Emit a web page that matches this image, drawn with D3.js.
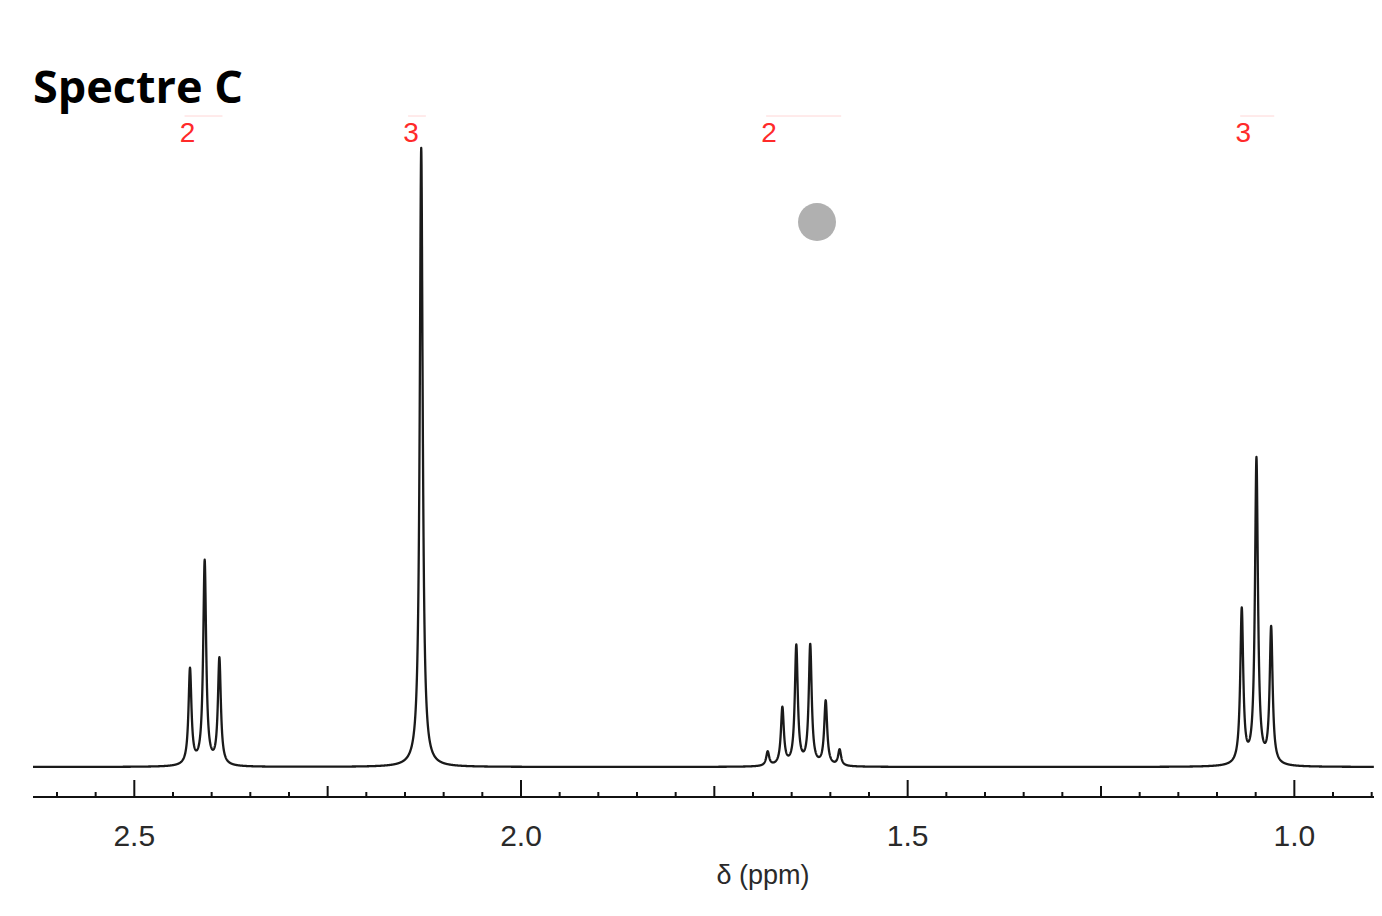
<!DOCTYPE html>
<html>
<head>
<meta charset="utf-8">
<script src="https://cdn.jsdelivr.net/npm/d3@7"></script>
<style>
  body { margin: 0; background: #fff; }
  svg { display: block; }
</style>
</head>
<body>
<div class="chart"></div>
<script>
// peak lists: shift in ppm, height (singlet = 100)
const tripletA = [
  { ppm: 2.428, h: 15.5 },
  { ppm: 2.409, h: 33.0 },
  { ppm: 2.390, h: 17.2 }
];
const singlet = [
  { ppm: 2.129, h: 100 }
];
const sextet = [
  { ppm: 1.681, h: 2.3 },
  { ppm: 1.662, h: 9.3 },
  { ppm: 1.644, h: 19.3 },
  { ppm: 1.626, h: 19.4 },
  { ppm: 1.606, h: 10.4 },
  { ppm: 1.588, h: 2.6 }
];
const tripletB = [
  { ppm: 1.068, h: 25.0 },
  { ppm: 1.049, h: 49.4 },
  { ppm: 1.030, h: 22.0 }
];
// integrals (label, range in ppm)
const integrals = [
  { label: '2', from: 2.435, to: 2.386 },
  { label: '3', from: 2.146, to: 2.123 },
  { label: '2', from: 1.683, to: 1.586 },
  { label: '3', from: 1.070, to: 1.026 }
];
const tickLabels = [2.5, 2.0, 1.5, 1.0];
const lineWidth = 0.0023; // lorentzian half width, ppm

const width = 1382;
const height = 916;
const svg = d3.select('.chart').append('svg')
  .attr('width', width)
  .attr('height', height);

const x = d3.scaleLinear()
  .domain([2.631, 0.897])
  .range([33, 1374]);
const y = d3.scaleLinear()
  .domain([0, 100])
  .range([767, 148]);

svg.append('text')
  .attr('x', 33)
  .attr('y', 103)
  .style('font-family', '"Open Sans", sans-serif')
  .style('font-weight', 700)
  .style('font-size', '45px')
  .style('fill', '#000')
  .text('Spectre C');

// spectrum = sum of lorentzians over the peak lists
const peaks = [].concat(tripletA, singlet, sextet, tripletB);
const spectrum = d3.range(2.631, 0.897, -0.0002).map(p => {
  let v = 0;
  peaks.forEach(pk => {
    const d = (p - pk.ppm) / lineWidth;
    v += pk.h / (1 + d * d);
  });
  return { ppm: p, v: v };
});

svg.append('path')
  .datum(spectrum)
  .attr('d', d3.line().x(d => x(d.ppm)).y(d => y(d.v)))
  .style('fill', 'none')
  .style('stroke', '#1a1a1a')
  .style('stroke-width', 2.3)
  .style('stroke-linejoin', 'round');

// integration marks
const integ = svg.append('g');
integ.selectAll('line')
  .data(integrals)
  .enter()
  .append('line')
  .attr('x1', d => x(d.from))
  .attr('x2', d => x(d.to))
  .attr('y1', 116)
  .attr('y2', 116)
  .style('stroke', '#ffd6d6')
  .style('stroke-width', 1);
integ.selectAll('text')
  .data(integrals)
  .enter()
  .append('text')
  .attr('x', d => x(d.from) + 3)
  .attr('y', 142)
  .attr('text-anchor', 'middle')
  .style('font-family', '"Liberation Sans", Arial, sans-serif')
  .style('font-size', '28px')
  .style('fill', '#ff2a2a')
  .text(d => d.label);

// axis
const axisG = svg.append('g');
axisG.append('line')
  .attr('x1', x(2.631))
  .attr('x2', x(0.897))
  .attr('y1', 797)
  .attr('y2', 797)
  .style('stroke', '#111')
  .style('stroke-width', 2.2);

const ticks = d3.range(0, 35).map(i => +(2.6 - i * 0.05).toFixed(2)).filter(t => t >= 0.9);
axisG.selectAll('line.tick')
  .data(ticks)
  .enter()
  .append('line')
  .attr('class', 'tick')
  .attr('x1', d => x(d))
  .attr('x2', d => x(d))
  .attr('y1', 797)
  .attr('y2', d => {
    const k = Math.round(d * 100);
    if (k % 50 === 0) return 780;
    if (k % 25 === 0) return 786;
    return 792;
  })
  .style('stroke', '#111')
  .style('stroke-width', 2);

axisG.selectAll('text')
  .data(tickLabels)
  .enter()
  .append('text')
  .attr('x', d => x(d))
  .attr('y', 846)
  .attr('text-anchor', 'middle')
  .style('font-family', '"Liberation Sans", Arial, sans-serif')
  .style('font-size', '30px')
  .style('fill', '#2a2a2a')
  .text(d => d.toFixed(1));

svg.append('text')
  .attr('x', 763)
  .attr('y', 884)
  .attr('text-anchor', 'middle')
  .style('font-family', '"Liberation Sans", Arial, sans-serif')
  .style('font-size', '27px')
  .style('fill', '#2a2a2a')
  .text('δ (ppm)');

svg.append('circle')
  .attr('cx', 817)
  .attr('cy', 222)
  .attr('r', 19)
  .style('fill', '#b0b0b0');
</script>
</body>
</html>
